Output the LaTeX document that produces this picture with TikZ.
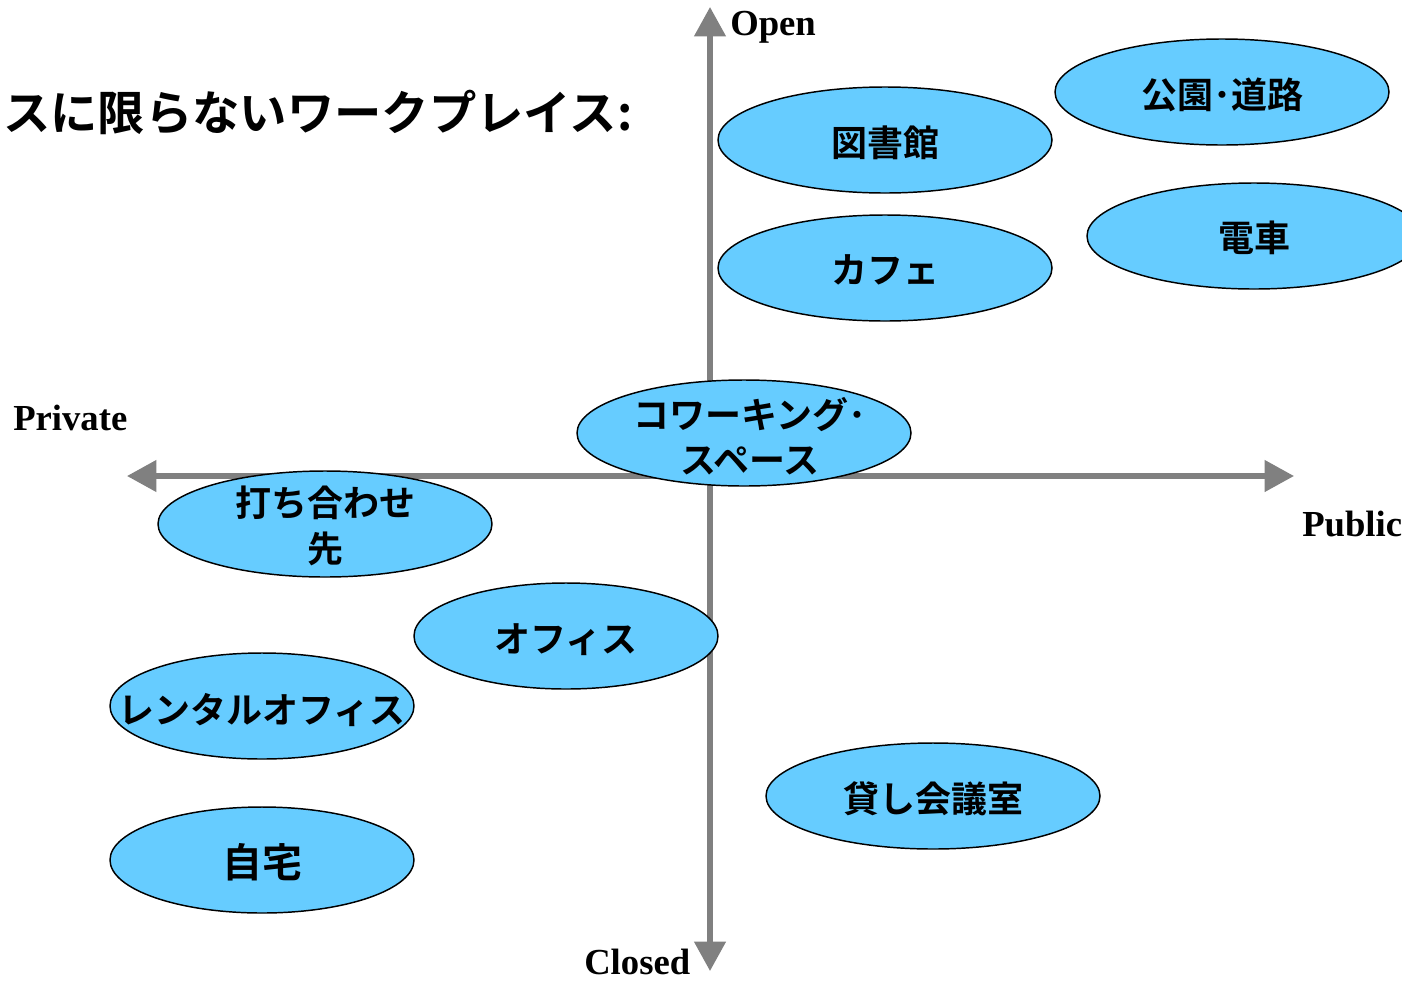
\documentclass[tikz,border=0pt]{standalone}
\usepackage{fontspec}
\setmainfont{Liberation Serif}
\newfontfamily\jp{Noto Sans CJK JP}[BoldFont={Noto Sans CJK JP Bold}]
\usetikzlibrary{arrows.meta}
\definecolor{bubblefill}{HTML}{66CCFF}
\definecolor{axisgray}{HTML}{808080}
\tikzset{
  bubble/.style={draw=black, line width=1.1pt, fill=bubblefill},
  bubbletext/.style={font=\jp\bfseries\fontsize{27pt}{34pt}\selectfont, align=center, inner sep=0pt},
  axislabel/.style={font=\bfseries\fontsize{27.5pt}{30pt}\selectfont, inner sep=0pt},
  axisline/.style={draw=axisgray, line width=4pt, -{Triangle[length=22pt,width=23pt]}}
}
\begin{document}
\begin{tikzpicture}[x=0.75pt,y=-0.75pt]
\useasboundingbox (0,0) rectangle (1402,982);
\clip (0,0) rectangle (1402,982);
% axes
\coordinate (origin) at (710,476);
\coordinate (topend) at (710,7);
\coordinate (bottomend) at (710,971);
\coordinate (leftend) at (127,476);
\coordinate (rightend) at (1294,476);
\draw[axisline] (origin) -- (topend);
\draw[axisline] (origin) -- (bottomend);
\draw[axisline] (origin) -- (leftend);
\draw[axisline] (origin) -- (rightend);
% axis labels
\node[axislabel, anchor=base west] (open) at (730,35) {Open};
\node[axislabel, anchor=base west] (closed) at (584,974) {Closed};
\node[axislabel, anchor=base west] (private) at (13,430) {Private};
\node[axislabel, anchor=base west] (public) at (1302,536) {Public};
% title
\node[font=\jp\bfseries\fontsize{35.5pt}{40pt}\selectfont, anchor=west, inner sep=0pt] (title) at (3,112) {スに限らないワークプレイス:};
% bubbles
\draw[bubble] (885,140) ellipse [x radius=167, y radius=53];
\node[bubbletext] (toshokan) at (885,143) {図書館};
\draw[bubble] (885,268) ellipse [x radius=167, y radius=53];
\node[bubbletext] (cafe) at (885,270) {カフェ};
\draw[bubble] (1222,92) ellipse [x radius=167, y radius=53];
\node[bubbletext] (koen) at (1222,95) {公園･道路};
\draw[bubble] (1254,236) ellipse [x radius=167, y radius=53];
\node[bubbletext] (densha) at (1254,238) {電車};
\draw[bubble] (744,433) ellipse [x radius=167, y radius=53];
\node[bubbletext] (cowork) at (750,436) {コワーキング･\\スペース};
\draw[bubble] (325,524) ellipse [x radius=167, y radius=53];
\node[bubbletext] (uchiawase) at (325,526) {打ち合わせ\\先};
\draw[bubble] (566,636) ellipse [x radius=152, y radius=53];
\node[bubbletext] (office) at (566,640) {オフィス};
\draw[bubble] (262,706) ellipse [x radius=152, y radius=53];
\node[bubbletext] (rental) at (262,710) {レンタルオフィス};
\draw[bubble] (262,860) ellipse [x radius=152, y radius=53];
\node[bubbletext, font=\jp\bfseries\fontsize{30pt}{34pt}\selectfont] (jitaku) at (262,862) {自宅};
\draw[bubble] (933,796) ellipse [x radius=167, y radius=53];
\node[bubbletext] (kaigi) at (933,799) {貸し会議室};
\end{tikzpicture}
\end{document}
